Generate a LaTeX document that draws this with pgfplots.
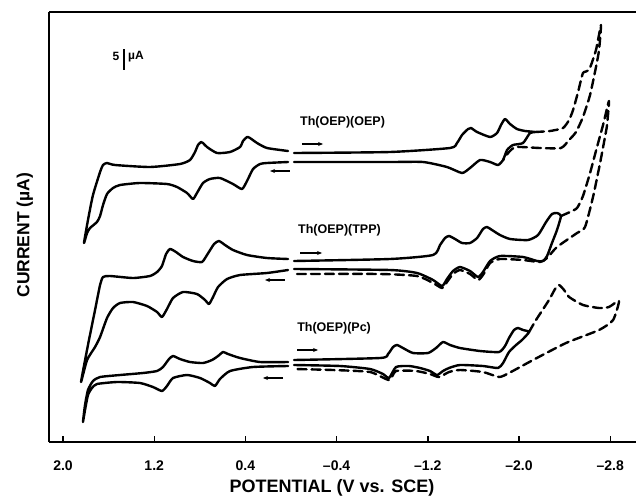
\documentclass[border=0pt]{standalone}
\usepackage{pgfplots}
\pgfplotsset{compat=1.18}
\usepackage{fontspec}
\setmainfont{Liberation Sans}
\usetikzlibrary{arrows.meta}
\begin{document}
\begin{tikzpicture}
\useasboundingbox (-49pt,-57pt) rectangle (587pt,442pt);
\draw[line width=1.8pt] (0pt,430pt) -- (587pt,430pt);
\begin{axis}[
 scale only axis, width=587pt, height=430pt,
 x dir=reverse, xmin=-3.026, xmax=2.123, ymin=0, ymax=430,
 axis x line=bottom, axis y line=left, axis line style={-, line width=1.6pt},
 xtick={2.0,1.2,0.4,-0.4,-1.2,-2.0,-2.8},
 xticklabels={2.0,1.2,0.4,{--0.4},{--1.2},{--2.0},{--2.8}},
 ytick=\empty,
 tick align=inside, major tick length=6pt, tick style={line width=1.4pt, black},
 xticklabel style={font=\bfseries\fontsize{14}{14}\selectfont, yshift=-15pt},
 xlabel={POTENTIAL (V vs. SCE)}, ylabel={CURRENT (µA)},
 xlabel style={font=\bfseries\fontsize{18}{18}\selectfont, at={(axis description cs:0.482,-0.107)}, anchor=center},
 ylabel style={font=\bfseries\fontsize{17.5}{17.5}\selectfont, at={(axis description cs:-0.041,0.481)}, anchor=center},
 clip=false,
 cv/.style={black, line width=2.4pt, line join=round, line cap=round, no markers, smooth, tension=0.35},
 cvd/.style={cv, dash pattern=on 9pt off 5pt},
]
% Th(OEP)(OEP)
\addplot[cv] coordinates {(0.026,291) (0.211,294) (0.298,299) (0.360,304) (0.386,305) (0.421,301) (0.447,295) (0.535,290) (0.649,289) (0.737,295) (0.772,299) (0.789,300) (0.816,297) (0.842,290) (0.886,282) (0.974,278) (1.237,275) (1.544,277) (1.614,279) (1.649,277) (1.675,270) (1.737,247) (1.781,222) (1.816,199) (1.789,209) (1.763,214) (1.702,220) (1.675,226) (1.649,237) (1.614,248) (1.561,254) (1.500,257) (1.325,259) (1.088,258) (1.000,255) (0.912,249) (0.860,243) (0.825,249) (0.772,259) (0.711,263) (0.623,264) (0.509,258) (0.430,253) (0.386,261) (0.333,273) (0.272,278) (0.211,279) (0.026,280)};
\addplot[cv] coordinates {(-0.026,289) (-0.868,290) (-1.395,294) (-1.456,299) (-1.500,307) (-1.553,313) (-1.579,314) (-1.632,310) (-1.746,305) (-1.807,309) (-1.842,317) (-1.877,323) (-1.921,318) (-1.982,313) (-2.053,311) (-2.140,310) (-2.096,309) (-2.035,299) (-1.947,297) (-1.895,292) (-1.860,282) (-1.816,277) (-1.746,280) (-1.658,282) (-1.570,274) (-1.500,269) (-1.368,275) (-1.158,280) (-0.868,280) (-0.026,280)};
\addplot[cvd] coordinates {(-2.140,310) (-2.272,311) (-2.386,314) (-2.439,322) (-2.474,332) (-2.518,350) (-2.561,369) (-2.614,372) (-2.675,392) (-2.719,417) (-2.702,392) (-2.675,375) (-2.623,347) (-2.561,325) (-2.500,310) (-2.439,302) (-2.368,294) (-2.184,294) (-1.974,295) (-1.912,290) (-1.860,282)};
% Th(OEP)(TPP)
\addplot[cv] coordinates {(0.026,183) (0.211,184) (0.386,187) (0.509,192) (0.579,197) (0.632,201) (0.675,198) (0.737,187) (0.781,180) (0.860,181) (0.947,185) (1.009,190) (1.061,193) (1.096,188) (1.132,176) (1.175,170) (1.237,166) (1.386,164) (1.588,166) (1.649,165) (1.675,157) (1.719,132) (1.781,97) (1.842,60) (1.789,82) (1.719,95) (1.675,105) (1.614,124) (1.561,134) (1.500,139) (1.386,140) (1.263,136) (1.175,130) (1.132,125) (1.088,133) (1.035,144) (0.947,150) (0.825,148) (0.754,142) (0.719,138) (0.684,145) (0.640,155) (0.561,163) (0.447,167) (0.211,169) (0.026,172)};
\addplot[cv] coordinates {(-0.026,181) (-0.868,183) (-1.246,187) (-1.307,197) (-1.351,204) (-1.386,206) (-1.439,203) (-1.500,199) (-1.570,199) (-1.632,204) (-1.684,213) (-1.719,215) (-1.763,212) (-1.833,207) (-1.921,203) (-2.079,202) (-2.167,207) (-2.237,220) (-2.289,228) (-2.333,229) (-2.368,226) (-2.333,212) (-2.289,199) (-2.246,186) (-2.211,181) (-2.158,181) (-2.035,185) (-1.833,186) (-1.746,181) (-1.684,170) (-1.640,165) (-1.570,171) (-1.482,175) (-1.421,171) (-1.368,163) (-1.325,156) (-1.246,162) (-1.105,169) (-0.868,172) (-0.026,173)};
\addplot[cvd] coordinates {(-2.368,226) (-2.447,230) (-2.509,234) (-2.561,246) (-2.623,269) (-2.684,295) (-2.737,317) (-2.789,341) (-2.772,317) (-2.754,305) (-2.711,279) (-2.649,245) (-2.579,215) (-2.509,209) (-2.333,195) (-2.246,184) (-2.184,180) (-2.035,182) (-1.833,183) (-1.746,179) (-1.684,167) (-1.640,162) (-1.570,168) (-1.482,172) (-1.421,168) (-1.368,160) (-1.325,154) (-1.246,159) (-1.105,166) (-0.781,168) (-0.026,168)};
% Th(OEP)(Pc)
\addplot[cv] coordinates {(0.026,80) (0.272,80) (0.447,84) (0.553,88) (0.596,90) (0.640,86) (0.693,82) (0.772,79) (0.886,80) (0.974,83) (1.035,86) (1.070,83) (1.123,75) (1.175,71) (1.298,69) (1.500,67) (1.675,65) (1.737,61) (1.781,52) (1.807,37) (1.825,20) (1.807,32) (1.781,47) (1.746,54) (1.702,58) (1.526,60) (1.325,59) (1.211,55) (1.132,51) (1.088,56) (1.035,64) (0.912,67) (0.798,64) (0.711,59) (0.667,56) (0.623,63) (0.535,71) (0.333,75) (0.026,76)};
\addplot[cv] coordinates {(-0.026,82) (-0.781,84) (-0.851,88) (-0.895,95) (-0.930,97) (-0.982,94) (-1.070,89) (-1.202,89) (-1.272,94) (-1.333,100) (-1.395,97) (-1.482,94) (-1.658,91) (-1.825,90) (-1.877,96) (-1.912,104) (-1.956,112) (-1.991,114) (-2.035,112) (-2.088,110) (-2.026,102) (-1.974,97) (-1.912,90) (-1.860,79) (-1.816,74) (-1.684,76) (-1.482,77) (-1.386,74) (-1.333,71) (-1.281,67) (-1.219,71) (-1.132,74) (-1.035,76) (-0.921,75) (-0.860,64) (-0.807,68) (-0.693,73) (-0.430,76) (-0.026,77)};
\addplot[cvd] coordinates {(-2.088,110) (-2.149,122) (-2.263,142) (-2.316,153) (-2.351,157) (-2.395,152) (-2.439,145) (-2.561,137) (-2.702,134) (-2.789,135) (-2.877,141) (-2.825,122) (-2.702,112) (-2.412,99) (-2.123,82) (-1.912,69) (-1.825,65) (-1.684,70) (-1.482,72) (-1.386,70) (-1.298,65) (-1.219,68) (-1.096,71) (-0.921,71) (-0.860,62) (-0.693,70) (-0.368,72) (-0.026,73)};
% labels
\node[anchor=west, font=\bfseries\fontsize{12.5}{12.5}\selectfont, inner sep=0pt] at (axis cs:-0.079,320) {Th(OEP)(OEP)};
\node[anchor=west, font=\bfseries\fontsize{12.5}{12.5}\selectfont, inner sep=0pt] at (axis cs:-0.061,212) {Th(OEP)(TPP)};
\node[anchor=west, font=\bfseries\fontsize{12.5}{12.5}\selectfont, inner sep=0pt] at (axis cs:-0.053,114) {Th(OEP)(Pc)};
% scan direction arrows
\draw[-{Stealth[length=5pt,width=4pt]}, line width=1.4pt] (axis cs:-0.096,298) -- (axis cs:-0.281,298);
\draw[-{Stealth[length=5pt,width=4pt]}, line width=1.4pt] (axis cs:0.009,271) -- (axis cs:0.184,271);
\draw[-{Stealth[length=5pt,width=4pt]}, line width=1.4pt] (axis cs:-0.079,189) -- (axis cs:-0.272,189);
\draw[-{Stealth[length=5pt,width=4pt]}, line width=1.4pt] (axis cs:0.053,162) -- (axis cs:0.228,162);
\draw[-{Stealth[length=5pt,width=4pt]}, line width=1.4pt] (axis cs:-0.053,92) -- (axis cs:-0.237,92);
\draw[-{Stealth[length=5pt,width=4pt]}, line width=1.4pt] (axis cs:0.070,64) -- (axis cs:0.246,64);
% scale bar
\draw[line width=1.4pt] (axis cs:1.465,393) -- (axis cs:1.465,372);
\draw[line width=1.4pt] (axis cs:1.465,393) ++(-3pt,0) -- ++(6pt,0);
\draw[line width=1.4pt] (axis cs:1.465,372) ++(-3pt,0) -- ++(6pt,0);
\node[font=\bfseries\fontsize{12}{12}\selectfont, inner sep=0pt] at (axis cs:1.535,386) {5};
\node[anchor=west, font=\bfseries\fontsize{12}{12}\selectfont, inner sep=0pt] at (axis cs:1.43,385) {µA};
\end{axis}
\end{tikzpicture}
\end{document}
